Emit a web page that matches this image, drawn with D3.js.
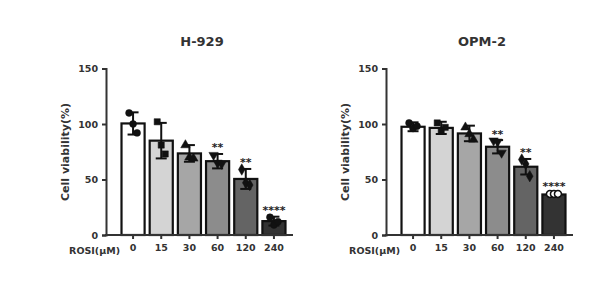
<!DOCTYPE html>
<html>
<head>
<meta charset="utf-8">
<script src="https://cdn.jsdelivr.net/npm/d3@7"></script>
<style>
  body { margin: 0; background: #fff; }
  text { font-family: "DejaVu Sans", sans-serif; font-weight: bold; fill: #333; }
</style>
</head>
<body>
<div id="chart"></div>
<script>
// data
const doses = ["0", "15", "30", "60", "120", "240"]
const yTicks = [0, 50, 100, 150]
const fills = ["#ffffff", "#d4d4d4", "#a6a6a6", "#8c8c8c", "#646464", "#333333"]

const h929Means = [100.5, 85, 73.5, 66.5, 50.5, 12.5]
const h929Sd = [10, 16, 7.5, 6.5, 9, 4]
const h929Points = [[110, 100, 92], [102, 81, 73], [81, 70, 69], [72, 65, 64], [59, 47, 45], [16, 9, 12]]
const h929Stars = ["", "", "", "**", "**", "****"]

const opmMeans = [97.5, 96.5, 91.5, 79.5, 61.5, 36.5]
const opmSd = [4, 5.5, 7, 6, 7, 1.5]
const opmPoints = [[101, 96, 98], [101, 94, 97], [97, 91, 86], [85, 84, 74], [68, 64, 53], [37, 37, 37]]
const opmStars = ["", "", "", "**", "**", "****"]

const W = 600, H = 300

let svg = d3.select("#chart").append("svg")
  .attr("width", W)
  .attr("height", H)

// upside-down triangle, same area as d3.symbolTriangle
const triDown = {
  draw(ctx, size) {
    const r = Math.sqrt(size / (3 * Math.sqrt(3)))
    ctx.moveTo(0, 2 * r)
    ctx.lineTo(-Math.sqrt(3) * r, -r)
    ctx.lineTo(Math.sqrt(3) * r, -r)
    ctx.closePath()
  }
}
const symbols = [d3.symbolCircle, d3.symbolSquare, d3.symbolTriangle, triDown, d3.symbolDiamond, d3.symbolCircle]

const drawPanel = (ox, title, means, sd, points, stars, hollowLast) => {
  let g = svg.append("g").attr("transform", "translate(" + ox + ",0)")

  let y = d3.scaleLinear().domain([0, 150]).range([235, 68.5])
  let x = d3.scaleBand().domain(doses).range([117, 290]).paddingInner(0.18).paddingOuter(0.16)

  // bars
  g.selectAll(".bar").data(means).join("rect")
    .attr("x", (d, i) => x(doses[i]))
    .attr("y", d => y(d))
    .attr("width", x.bandwidth())
    .attr("height", d => y(0) - y(d))
    .attr("fill", (d, i) => fills[i])
    .attr("stroke", "#111")
    .attr("stroke-width", 2.2)

  // error bars, points, stars
  means.forEach((m, i) => {
    let cx = x(doses[i]) + x.bandwidth() / 2
    g.append("line")
      .attr("x1", cx).attr("x2", cx)
      .attr("y1", y(m - sd[i])).attr("y2", y(m + sd[i]))
      .attr("stroke", "#111").attr("stroke-width", 2)
    ;[m - sd[i], m + sd[i]].forEach(v => {
      g.append("line")
        .attr("x1", cx - 5.5).attr("x2", cx + 5.5)
        .attr("y1", y(v)).attr("y2", y(v))
        .attr("stroke", "#111").attr("stroke-width", 2)
    })
    points[i].forEach((p, j) => {
      let hollow = hollowLast && i == 5
      g.append("path")
        .attr("d", d3.symbol(symbols[i], 38)())
        .attr("transform", "translate(" + (cx + (j - 1) * 4) + "," + y(p) + ")")
        .attr("fill", hollow ? "#fff" : "#111")
        .attr("stroke", "#111")
        .attr("stroke-width", hollow ? 1.5 : 0.5)
    })
    if (stars[i]) {
      g.append("text")
        .attr("x", cx)
        .attr("y", y(m + sd[i]) - 2.5)
        .attr("text-anchor", "middle")
        .style("font-size", "11px")
        .style("fill", "#222")
        .text(stars[i])
    }
  })

  // axes
  g.append("g")
    .attr("transform", "translate(106,0)")
    .call(d3.axisLeft(y).tickValues(yTicks).tickSize(4).tickPadding(4))
    .call(a => a.select(".domain").attr("stroke", "#333").attr("stroke-width", 2))
    .call(a => a.selectAll(".tick line").attr("stroke", "#333").attr("stroke-width", 2))
    .call(a => a.selectAll("text").style("font-size", "9.5px").attr("fill", "#333"))

  g.append("g")
    .attr("transform", "translate(0,235)")
    .call(d3.axisBottom(x).tickSize(4).tickPadding(5))
    .call(a => a.select(".domain").remove())
    .call(a => a.selectAll(".tick line").attr("stroke", "#333").attr("stroke-width", 2))
    .call(a => a.selectAll("text").style("font-size", "9.5px").attr("fill", "#333"))

  g.append("line")
    .attr("x1", 105).attr("x2", 293)
    .attr("y1", 235).attr("y2", 235)
    .attr("stroke", "#333").attr("stroke-width", 2)

  g.append("text")
    .attr("x", 120).attr("y", 253.5)
    .attr("text-anchor", "end")
    .style("font-size", "9.5px")
    .text("ROSI(μM)")

  g.append("text")
    .attr("transform", "translate(69,152) rotate(-90)")
    .attr("text-anchor", "middle")
    .style("font-size", "11px")
    .text("Cell viability(%)")

  g.append("text")
    .attr("x", 202).attr("y", 45.5)
    .attr("text-anchor", "middle")
    .style("font-size", "13px")
    .text(title)
}

drawPanel(0, "H-929", h929Means, h929Sd, h929Points, h929Stars, false)
drawPanel(280, "OPM-2", opmMeans, opmSd, opmPoints, opmStars, true)
</script>
</body>
</html>
